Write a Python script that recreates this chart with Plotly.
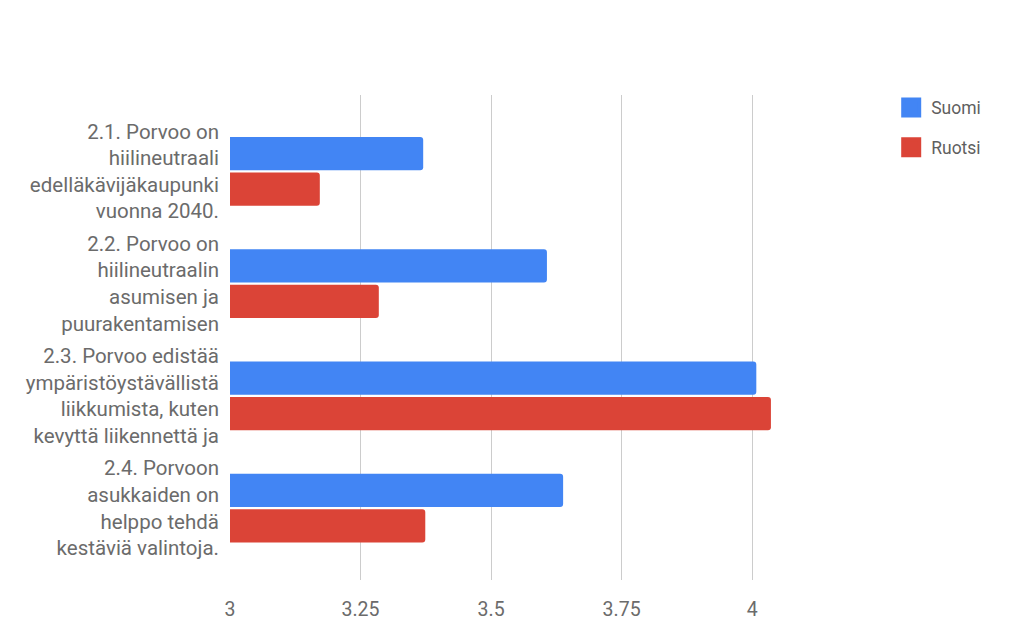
import plotly.graph_objects as go

categories = [
    "2.1. Porvoo on<br>hiilineutraali<br>edelläkävijäkaupunki<br>vuonna 2040.",
    "2.2. Porvoo on<br>hiilineutraalin<br>asumisen ja<br>puurakentamisen",
    "2.3. Porvoo edistää<br>ympäristöystävällistä<br>liikkumista, kuten<br>kevyttä liikennettä ja",
    "2.4. Porvoon<br>asukkaiden on<br>helppo tehdä<br>kestäviä valintoja.",
]
suomi = [3.37, 3.607, 4.008, 3.638]
ruotsi = [3.172, 3.285, 4.036, 3.374]
x_ticks = [3, 3.25, 3.5, 3.75, 4]
x_tick_labels = ["3", "3.25", "3.5", "3.75", "4"]

BLUE = "#4285F4"
RED = "#DB4437"
FONT = "Roboto"
GREY = "#6b6b6b"

fig = go.Figure()
fig.add_trace(go.Bar(y=categories, x=suomi, orientation="h", name="Suomi",
                     marker=dict(color=BLUE, line=dict(width=0)),
                     showlegend=False))
fig.add_trace(go.Bar(y=categories, x=ruotsi, orientation="h", name="Ruotsi",
                     marker=dict(color=RED, line=dict(width=0)),
                     showlegend=False))
# legend entries
for name, col in [("Suomi", BLUE), ("Ruotsi", RED)]:
    fig.add_trace(go.Scatter(x=[None], y=[None], mode="markers", name=name,
                             legendgroup=name,
                             marker=dict(symbol="square", size=16, color=col,
                                         line=dict(width=4, color=col))))

# page body has an 8px default margin, so the figure is sized to fit the window
fig.update_layout(
    width=1016, height=625,
    margin=dict(l=222, r=157, t=87, b=53),
    paper_bgcolor="white", plot_bgcolor="white",
    barmode="group", bargap=0.37, bargroupgap=0.06,
    barcornerradius=3,
    font=dict(family=FONT, color=GREY),
    legend=dict(x=1.038, y=1.011, xanchor="left", yanchor="top",
                font=dict(size=17.5, color="#5f5f5f", family=FONT),
                tracegroupgap=14, itemsizing="trace"),
    xaxis=dict(range=[3, 4.22], tickvals=x_ticks, ticktext=x_tick_labels,
               showgrid=True, gridcolor="#cccccc", gridwidth=1,
               zeroline=False, showline=False, ticks="", automargin=False,
               tickfont=dict(size=19.5, color=GREY, family=FONT),
               ticklabelstandoff=15),
    yaxis=dict(categoryorder="array", categoryarray=categories,
               autorange=False, range=[3.64, -0.68], automargin=False,
               showgrid=False, zeroline=False, showline=False, ticks="",
               tickfont=dict(size=20.5, color=GREY, family=FONT),
               ticklabelstandoff=10),
)

fig.write_html("out.html")
